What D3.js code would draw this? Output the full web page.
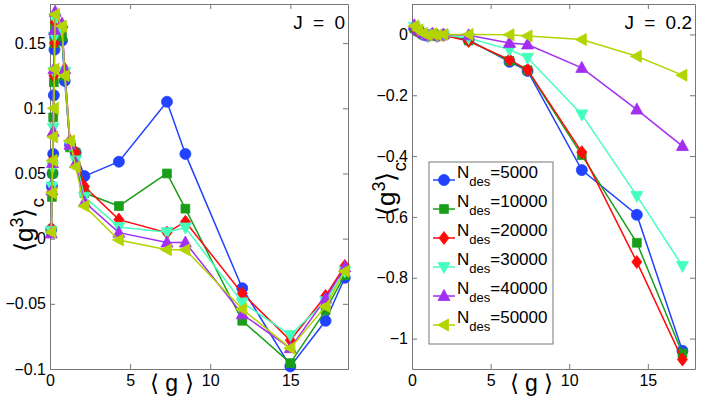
<!DOCTYPE html>
<meta charset="utf-8">
<body style="margin:0;background:#fff">
<div id="chart"></div>
<script src="https://d3js.org/d3.v7.min.js"></script>
<script>

// series
var names = ["5000", "10000", "20000", "30000", "40000", "50000"];
var colors = ["#2142ff", "#1a9e1a", "#ff0a0a", "#45ffbd", "#a22ff0", "#b4d400"];
var markers = ["circle", "square", "diamond", "tdown", "tup", "tleft"];

// J = 0 panel
var gJ0 = [0.08, 0.12, 0.16, 0.2, 0.24, 0.28, 0.32, 0.75, 0.92, 1.25, 1.6, 2.15, 4.3, 7.3, 8.45, 12, 15, 17.2, 18.4];
var j0_5000  = [0.007, 0.04, 0.05, 0.065, 0.11, 0.145, 0.155, 0.152, 0.121, 0.072, 0.066, 0.048, 0.059, 0.105, 0.065, -0.038, -0.098, -0.063, -0.03];
var j0_10000 = [0.005, 0.032, 0.05, 0.093, 0.12, 0.15, 0.163, 0.155, 0.125, 0.07, 0.066, 0.035, 0.025, 0.05, 0.023, -0.063, -0.0955, -0.055, -0.028];
var j0_20000 = [0.008, 0.036, 0.06, 0.08, 0.125, 0.15, 0.166, 0.16, 0.13, 0.075, 0.066, 0.04, 0.0146, 0.0046, 0.013, -0.042, -0.078, -0.044, -0.021];
var j0_30000 = [0.006, 0.04, 0.055, 0.085, 0.128, 0.155, 0.169, 0.16, 0.128, 0.072, 0.06, 0.032, 0.009, 0.005, 0.0085, -0.049, -0.074, -0.048, -0.025];
var j0_40000 = [0.004, 0.037, 0.058, 0.082, 0.13, 0.16, 0.174, 0.165, 0.13, 0.072, 0.058, 0.028, 0.0046, -0.003, -0.003, -0.058, -0.084, -0.046, -0.022];
var j0_50000 = [0.005, 0.035, 0.06, 0.078, 0.1, 0.13, 0.172, 0.163, 0.125, 0.075, 0.055, 0.025, -0.001, -0.0085, -0.0085, -0.054, -0.084, -0.052, -0.025];

// J = 0.2 panel
var gJ2 = [0.15, 0.4, 0.7, 1.0, 1.3, 1.6, 2.0, 3.6, 6.2, 7.35, 10.8, 14.3, 17.2];
var j2_5000  = [0.02, 0.01, 0.0, -0.005, 0.0, -0.005, -0.002, -0.018, -0.09, -0.12, -0.446, -0.593, -1.04];
var j2_10000 = [0.02, 0.01, 0.0, -0.004, 0.0, -0.004, -0.002, -0.02, -0.087, -0.118, -0.397, -0.685, -1.049];
var j2_20000 = [0.022, 0.01, 0.002, -0.005, 0.0, -0.005, -0.003, -0.022, -0.083, -0.116, -0.387, -0.748, -1.069];
var j2_30000 = [0.025, 0.012, 0.0, -0.006, 0.0, -0.004, -0.002, -0.012, -0.05, -0.077, -0.263, -0.531, -0.761];
var j2_40000 = [0.03, 0.015, 0.005, -0.004, 0.002, -0.003, 0.0, -0.003, -0.028, -0.033, -0.11, -0.247, -0.367];
var j2_50000 = [0.028, 0.015, 0.004, -0.003, 0.002, -0.002, 0.0, 0.0, -0.001, -0.005, -0.017, -0.072, -0.134];

// ticks
var xTicks = [0, 5, 10, 15];
var yTicksJ0 = [-0.1, -0.05, 0, 0.05, 0.1, 0.15];
var yTicksJ2 = [-1, -0.8, -0.6, -0.4, -0.2, 0];

var panels = [
  {title: "J = 0", g: gJ0, series: [j0_5000, j0_10000, j0_20000, j0_30000, j0_40000, j0_50000],
   left: 50, right: 348, xmax: 18.6, ydom: [-0.1, 0.18], yTicks: yTicksJ0, ylabY: 225, legend: false},
  {title: "J = 0.2", g: gJ2, series: [j2_5000, j2_10000, j2_20000, j2_30000, j2_40000, j2_50000],
   left: 412, right: 695, xmax: 18, ydom: [-1.1, 0.1], yTicks: yTicksJ2, ylabY: 189, legend: true}
];

var yTop = 4, yBottom = 369;
var font = "'Liberation Sans', Arial, Helvetica, sans-serif";
var axisColor = "#777";
var minus = function(v) { return String(v).replace("-", "\u2212"); };

var svg = d3.select("#chart").append("svg")
  .attr("width", 708).attr("height", 396)
  .style("font-family", font);

function markerPath(type) {
  switch (type) {
    case "circle": return "M5.5,0A5.5,5.5 0 1,1 -5.5,0A5.5,5.5 0 1,1 5.5,0Z";
    case "square": return "M-4.4,-4.4H4.4V4.4H-4.4Z";
    case "diamond": return "M0,-6.5L5,0L0,6.5L-5,0Z";
    case "tup": return "M0,-6.5L6,4.5L-6,4.5Z";
    case "tdown": return "M0,6.5L6,-4.5L-6,-4.5Z";
    case "tleft": return "M-6.5,0L4.5,-6L4.5,6Z";
  }
}

panels.forEach(function(p) {
  var x = d3.scaleLinear().domain([0, p.xmax]).range([p.left, p.right]);
  var y = d3.scaleLinear().domain(p.ydom).range([yBottom, yTop]);
  var g = svg.append("g");

  // axes (ticks inside, box on all sides)
  g.append("g").attr("transform", "translate(0," + yBottom + ")")
    .call(d3.axisBottom(x).tickValues(xTicks).tickSizeInner(-5).tickSizeOuter(0).tickPadding(6));
  g.append("g").attr("transform", "translate(0," + yTop + ")")
    .call(d3.axisTop(x).tickValues(xTicks).tickSizeInner(-5).tickSizeOuter(0).tickFormat(""));
  g.append("g").attr("transform", "translate(" + p.left + ",0)")
    .call(d3.axisLeft(y).tickValues(p.yTicks).tickSizeInner(-5).tickSizeOuter(0).tickPadding(4).tickFormat(minus));
  g.append("g").attr("transform", "translate(" + p.right + ",0)")
    .call(d3.axisRight(y).tickValues(p.yTicks).tickSizeInner(-5).tickSizeOuter(0).tickFormat(""));
  g.selectAll(".domain, .tick line").attr("stroke", axisColor);
  g.selectAll(".tick text").attr("fill", "#000").style("font-size", "16px").style("font-family", font);

  // data
  var line = d3.line().x(function(d) { return x(d[0]); }).y(function(d) { return y(d[1]); });
  p.series.forEach(function(vals, i) {
    var pts = p.g.map(function(gv, k) { return [gv, vals[k]]; });
    g.append("path").datum(pts).attr("d", line)
      .attr("fill", "none").attr("stroke", colors[i]).attr("stroke-width", 1.5);
    g.selectAll(null).data(pts).enter().append("path")
      .attr("d", markerPath(markers[i]))
      .attr("transform", function(d) { return "translate(" + x(d[0]) + "," + y(d[1]) + ")"; })
      .attr("fill", colors[i]).attr("stroke", colors[i]).attr("stroke-width", 0.8);
  });

  // title
  g.append("text").attr("x", p.right - 3).attr("y", 29)
    .attr("text-anchor", "end").style("font-size", "19px").style("word-spacing", "5px")
    .text(p.title);

  // x label
  g.append("text").attr("x", x(7.6)).attr("y", 391)
    .attr("text-anchor", "middle").style("font-size", "23px")
    .text("\u27E8 g \u27E9");

  // y label
  var yl = g.append("text")
    .attr("transform", "translate(" + (p.left - 17) + "," + p.ylabY + ") rotate(-90)")
    .attr("text-anchor", "middle").style("font-size", "26px");
  yl.append("tspan").text("\u27E8g");
  yl.append("tspan").attr("dy", -10).style("font-size", "18px").text("3");
  yl.append("tspan").attr("dy", 10).text("\u27E9");
  yl.append("tspan").attr("dy", 11).style("font-size", "19px").text("c");

  // legend
  if (p.legend) {
    var lx = 429, ly = 162, lw = 124, lh = 182;
    var lg = g.append("g");
    lg.append("rect").attr("x", lx).attr("y", ly).attr("width", lw).attr("height", lh)
      .attr("fill", "#fff").attr("stroke", axisColor);
    names.forEach(function(n, i) {
      var cy = 180 + i * 29;
      lg.append("line").attr("x1", 433).attr("x2", 455).attr("y1", cy).attr("y2", cy)
        .attr("stroke", colors[i]).attr("stroke-width", 1.5);
      lg.append("path").attr("d", markerPath(markers[i]))
        .attr("transform", "translate(444," + cy + ")")
        .attr("fill", colors[i]).attr("stroke", colors[i]).attr("stroke-width", 0.8);
      var t = lg.append("text").attr("x", 457).attr("y", cy - 2).style("font-size", "17px");
      t.append("tspan").text("N");
      t.append("tspan").attr("dy", 8).style("font-size", "13px").text("des");
      t.append("tspan").attr("dy", -8).text("=" + n);
    });
  }
});

</script>
</body>
